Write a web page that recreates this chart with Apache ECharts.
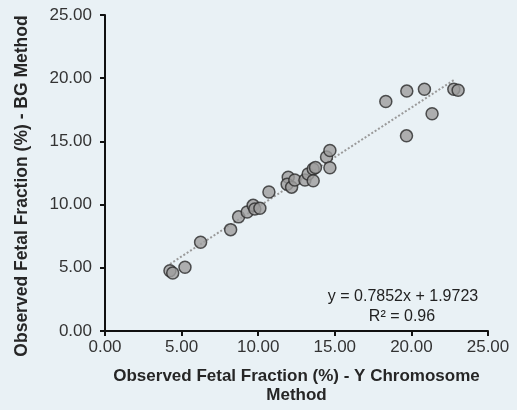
<!DOCTYPE html>
<html>
<head>
<meta charset="utf-8">
<script src="https://cdn.jsdelivr.net/npm/echarts@6/dist/echarts.min.js"></script>
<style>
html,body{margin:0;padding:0;background:#e9f1f5;}
#chart{width:517px;height:410px;}
</style>
</head>
<body>
<div id="chart"></div>
<script>
var xValues = [4.24, 4.42, 5.22, 6.24, 8.20, 8.72, 9.28, 9.67, 9.78, 10.11, 10.70, 11.96, 11.89, 12.18, 12.39, 13.05, 13.26, 13.59, 13.74, 13.59, 14.46, 14.68, 14.68, 18.33, 19.70, 20.85, 22.77, 23.05, 21.35, 19.68];
var yValues = [4.77, 4.59, 5.05, 7.02, 8.02, 9.03, 9.42, 9.94, 9.65, 9.71, 10.99, 12.16, 11.61, 11.38, 11.95, 11.95, 12.42, 12.81, 12.93, 11.88, 13.76, 14.28, 12.91, 18.16, 18.98, 19.13, 19.13, 19.05, 17.19, 15.44];
var slope = 0.7852;
var intercept = 1.9723;
var trendRange = [4.24, 22.85];
var equationText = 'y = 0.7852x + 1.9723';
var r2Text = 'R\u00b2 = 0.96';
var xTitle = 'Observed Fetal Fraction (%) - Y Chromosome\nMethod';
var yTitle = 'Observed Fetal Fraction (%) - BG Method';

var points = xValues.map(function (x, i) { return [x, yValues[i]]; });
var trend = trendRange.map(function (x) { return [x, slope * x + intercept]; });

var chart = echarts.init(document.getElementById('chart'));
var font = 'Liberation Sans, Arial, sans-serif';
chart.setOption({
  backgroundColor: '#e9f1f5',
  animation: false,
  grid: { left: 105, right: 29, top: 15, bottom: 72.5 },
  xAxis: {
    type: 'value', min: 0, max: 25, interval: 5,
    name: xTitle, nameLocation: 'middle', nameGap: 36,
    nameTextStyle: { fontFamily: font, fontSize: 17, fontWeight: 'bold', color: '#262626', lineHeight: 19 },
    axisLine: { show: true, lineStyle: { color: '#111', width: 2 } },
    axisTick: { show: true, length: 5, lineStyle: { color: '#111', width: 2 } },
    axisLabel: { margin: 8, fontFamily: font, fontSize: 17, color: '#333',
      formatter: function (v) { return v.toFixed(2); } },
    splitLine: { show: false }
  },
  yAxis: {
    type: 'value', min: 0, max: 25, interval: 5,
    axisLine: { show: true, lineStyle: { color: '#111', width: 2 } },
    axisTick: { show: true, length: 5, lineStyle: { color: '#111', width: 2 } },
    axisLabel: { margin: 13, fontFamily: font, fontSize: 17, color: '#333',
      formatter: function (v) { return v.toFixed(2); } },
    splitLine: { show: false }
  },
  series: [
    {
      type: 'line', data: trend, symbol: 'none', silent: true, z: 1,
      lineStyle: { color: '#9a9a9a', width: 2, type: [2, 2] }
    },
    {
      type: 'scatter', data: points, symbol: 'circle', symbolSize: 12, z: 2,
      itemStyle: { color: '#9e9e9e', borderColor: '#2b2b2b', borderWidth: 1.5 }
    }
  ],
  graphic: [
    { type: 'text', x: 22.5, y: 186, rotation: Math.PI / 2,
      style: { text: yTitle, font: 'bold 17.5px ' + font, fill: '#262626', textAlign: 'center', textVerticalAlign: 'middle' } },
    { type: 'text', x: 403, y: 297, style: { text: equationText, font: '16px ' + font, fill: '#222', textAlign: 'center', textVerticalAlign: 'middle' } },
    { type: 'text', x: 402, y: 316.5, style: { text: r2Text, font: '16px ' + font, fill: '#222', textAlign: 'center', textVerticalAlign: 'middle' } }
  ]
});
</script>
</body>
</html>
